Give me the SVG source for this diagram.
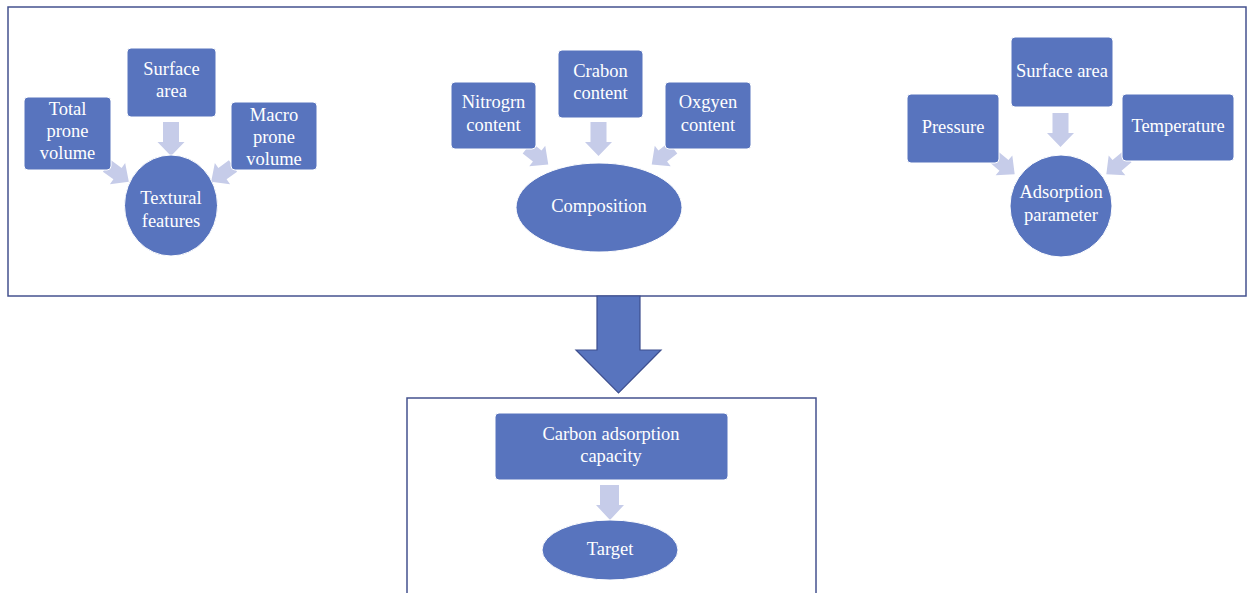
<svg xmlns="http://www.w3.org/2000/svg" width="1248" height="593" viewBox="0 0 1248 593">
<defs>
<style>
.frame{fill:#ffffff;stroke:#44528f;stroke-width:1.5}
.node{fill:#5874be;stroke:#ffffff;stroke-width:1}
.lbl{font-family:"Liberation Serif","Times New Roman",serif;font-size:18.5px;fill:#ffffff;text-anchor:middle}
.sa{fill:#c6cce9}
.big{fill:#5874be;stroke:#3d4e8e;stroke-width:1.2}
</style>
<path id="down" d="M-8,0 H8 V20 H13.5 L0,34 L-13.5,20 H-8 Z"/>
<path id="diag" d="M0,-7 H13 V-13 L27,0 L13,13 V7 H0 Z"/>
</defs>
<rect width="1248" height="593" fill="#ffffff"/>
<rect id="top-frame" class="frame" x="8" y="7" width="1238" height="289"/>
<rect id="bottom-frame" class="frame" x="407" y="398" width="409" height="200"/>

<g id="connectors">
<use href="#down" class="sa" x="171" y="122"/>
<use href="#diag" class="sa" transform="translate(107,166) rotate(36)"/>
<use href="#diag" class="sa" transform="translate(233,166) rotate(144)"/>
<use href="#down" class="sa" x="598.5" y="122"/>
<use href="#diag" class="sa" transform="translate(527,148) rotate(38)"/>
<use href="#diag" class="sa" transform="translate(673,148) rotate(142)"/>
<use href="#down" class="sa" x="1060.5" y="113"/>
<use href="#diag" class="sa" transform="translate(994,157) rotate(40)"/>
<use href="#diag" class="sa" transform="translate(1127,157) rotate(140)"/>
<path id="big-arrow" class="big" d="M597,296 H640 V350 H661 L618.5,393 L576,350 H597 Z"/>
<path class="sa" d="M600,485 H619 V505 H624 L610,520 L596,505 H600 Z"/>
</g>

<g id="total-prone-volume">
<rect class="node" x="24" y="97" width="87" height="73" rx="4"/>
<text class="lbl" x="67.5" y="115">Total</text>
<text class="lbl" x="67.5" y="137">prone</text>
<text class="lbl" x="67.5" y="159">volume</text>
</g>
<g id="surface-area-1">
<rect class="node" x="127" y="48" width="89" height="69" rx="4"/>
<text class="lbl" x="171.5" y="75">Surface</text>
<text class="lbl" x="171.5" y="97">area</text>
</g>
<g id="macro-prone-volume">
<rect class="node" x="231" y="102" width="86" height="68" rx="4"/>
<text class="lbl" x="274" y="121">Macro</text>
<text class="lbl" x="274" y="143">prone</text>
<text class="lbl" x="274" y="165">volume</text>
</g>
<g id="textural-features">
<ellipse class="node" cx="171" cy="205.5" rx="46.5" ry="50.5"/>
<text class="lbl" x="171" y="204">Textural</text>
<text class="lbl" x="171" y="227">features</text>
</g>

<g id="nitrogrn-content">
<rect class="node" x="451" y="82" width="85" height="67" rx="4"/>
<text class="lbl" x="493.5" y="108">Nitrogrn</text>
<text class="lbl" x="493.5" y="131">content</text>
</g>
<g id="crabon-content">
<rect class="node" x="558" y="50" width="85" height="68" rx="4"/>
<text class="lbl" x="600.5" y="77">Crabon</text>
<text class="lbl" x="600.5" y="99">content</text>
</g>
<g id="oxgyen-content">
<rect class="node" x="665" y="82" width="86" height="67" rx="4"/>
<text class="lbl" x="708" y="108">Oxgyen</text>
<text class="lbl" x="708" y="131">content</text>
</g>
<g id="composition">
<ellipse class="node" cx="599" cy="207.5" rx="83" ry="44.5"/>
<text class="lbl" x="599" y="212">Composition</text>
</g>

<g id="pressure">
<rect class="node" x="907" y="94" width="92" height="69" rx="4"/>
<text class="lbl" x="953" y="133">Pressure</text>
</g>
<g id="surface-area-2">
<rect class="node" x="1011" y="37" width="102" height="70" rx="4"/>
<text class="lbl" x="1062" y="77">Surface area</text>
</g>
<g id="temperature">
<rect class="node" x="1122" y="94" width="112" height="67" rx="4"/>
<text class="lbl" x="1178" y="132">Temperature</text>
</g>
<g id="adsorption-parameter">
<ellipse class="node" cx="1061" cy="206" rx="51" ry="51"/>
<text class="lbl" x="1061" y="198">Adsorption</text>
<text class="lbl" x="1061" y="221">parameter</text>
</g>

<g id="carbon-adsorption-capacity">
<rect class="node" x="495" y="413" width="233" height="67" rx="4"/>
<text class="lbl" x="611" y="440">Carbon adsorption</text>
<text class="lbl" x="611" y="462">capacity</text>
</g>
<g id="target">
<ellipse class="node" cx="610" cy="550" rx="68" ry="30"/>
<text class="lbl" x="610" y="555">Target</text>
</g>
</svg>
